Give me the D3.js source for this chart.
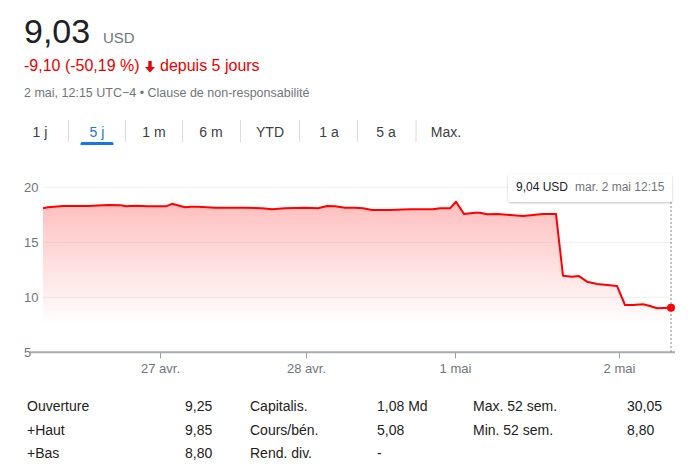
<!DOCTYPE html>
<html><head><meta charset="utf-8">
<script src="https://cdn.jsdelivr.net/npm/d3@7"></script>
<style>
html,body{margin:0;padding:0;background:#fff;}
svg{display:block;font-family:"Liberation Sans",Arial,Helvetica,sans-serif;}
</style></head>
<body><svg id="c" width="700" height="473"></svg>
<script>
// ---- data ----
const price = "9,03";
const currency = "USD";
const changeText = "-9,10 (-50,19 %)";
const changeSuffix = "depuis 5 jours";
const metaText = "2 mai, 12:15 UTC\u22124 \u2022 Clause de non-responsabilité";
const tabs = ["1 j","5 j","1 m","6 m","YTD","1 a","5 a","Max."];
const activeTab = "5 j";

// time in chart units (sessions of ~30 min), price in USD
const times  = [0,0.5,2,4.5,6.5,7.8,8.3,9.2,10.5,12.3,12.9,14.2,14.8,15.5,17.2,20.2,21.9,22.9,24.2,26.2,27.5,28.4,29.2,30.2,31.2,32,32.9,34.7,36.7,39,39.7,40.7,41.3,42.1,43.2,43.7,44.4,45.4,46.7,48,49,50,51.3,52,52.9,53.6,54.4,55.4,56.4,57.4,58.2,59,60,60.7,61.4,62.8];
const prices = [18.09,18.18,18.30,18.30,18.39,18.36,18.27,18.33,18.27,18.27,18.50,18.18,18.24,18.24,18.15,18.15,18.09,18.00,18.09,18.15,18.09,18.30,18.27,18.15,18.15,18.09,17.94,17.94,18.00,18.00,18.09,18.09,18.69,17.57,17.69,17.69,17.55,17.57,17.48,17.39,17.48,17.57,17.57,11.96,11.87,11.93,11.42,11.21,11.12,11.03,9.30,9.30,9.36,9.21,9.00,9.04];

const yTicks = [5,10,15,20];
const xTickPos = [11.7,26.3,41.2,57.6];
const xTickLabels = ["27 avr.","28 avr.","1 mai","2 mai"];

const tooltipValue = "9,04 USD";
const tooltipDate = "mar. 2 mai 12:15";

const statCol1Labels = ["Ouverture","+Haut","+Bas"];
const statCol1Values = ["9,25","9,85","8,80"];
const statCol2Labels = ["Capitalis.","Cours/bén.","Rend. div."];
const statCol2Values = ["1,08 Md","5,08","-"];
const statCol3Labels = ["Max. 52 sem.","Min. 52 sem."];
const statCol3Values = ["30,05","8,80"];

// ---- drawing ----
const svg = d3.select("#c");
const red = "#f00";
const grey = "#70757a";

// header
svg.append("text").attr("x",24).attr("y",43).attr("font-size",34).attr("fill","#202124").text(price);
svg.append("text").attr("x",103).attr("y",43).attr("font-size",15).attr("fill",grey).text(currency);
const ch = svg.append("text").attr("x",24).attr("y",71).attr("font-size",16).attr("fill","#e60000").text(changeText);
svg.append("path").attr("fill","#e60000")
  .attr("d","M148.3,61 h3.4 v6 h3.3 l-5,5.5 l-5,-5.5 h3.3 z");
svg.append("text").attr("x",160).attr("y",71).attr("font-size",16).attr("fill","#e60000").text(changeSuffix);
svg.append("text").attr("x",24).attr("y",96.5).attr("font-size",12.5).attr("fill",grey).text(metaText);

// tabs
const tabCenters = d3.scalePoint().domain(tabs).range([40,446]);
const tabX = [40,97,154,211,270,329,386,446];
tabs.forEach((t,i)=>{
  svg.append("text").attr("x",tabX[i]).attr("y",137).attr("text-anchor","middle")
    .attr("font-size",14).attr("fill", t===activeTab ? "#1a73e8" : "#3c4043").text(t);
  if(i<tabs.length-1){
    const sx = (tabX[i]+tabX[i+1])/2;
    svg.append("line").attr("x1",sx).attr("x2",sx).attr("y1",120).attr("y2",142)
      .attr("stroke","#dadce0").attr("stroke-width",1);
  }
});
const ai = tabs.indexOf(activeTab);
svg.append("path").attr("fill","#1a73e8")
  .attr("d",`M${tabX[ai]-16.5},145 v-1.5 a1.5,1.5 0 0 1 1.5,-1.5 h30 a1.5,1.5 0 0 1 1.5,1.5 v1.5 z`);

// chart
const x = d3.scaleLinear().domain([0,62.8]).range([43,671]);
const y = d3.scaleLinear().domain([5,20]).range([352.3,187.3]);
const data = times.map((t,i)=>({t, v:prices[i]}));

const defs = svg.append("defs");
const g = defs.append("linearGradient").attr("id","ag").attr("gradientUnits","userSpaceOnUse")
  .attr("x1",0).attr("x2",0).attr("y1",y(18.5)).attr("y2",y(7.5));
g.append("stop").attr("offset",0).attr("stop-color","#ff0000").attr("stop-opacity",0.25);
g.append("stop").attr("offset",1).attr("stop-color","#ff0000").attr("stop-opacity",0);

// grid
svg.append("g").selectAll("line").data(yTicks.filter(d=>d>5)).join("line")
  .attr("x1",43).attr("x2",672).attr("y1",d=>y(d)).attr("y2",d=>y(d))
  .attr("stroke","#f1f1f1").attr("stroke-width",1);

svg.append("path").datum(data)
  .attr("fill","url(#ag)")
  .attr("d",d3.area().x(d=>x(d.t)).y0(y(5)).y1(d=>y(d.v)));

// y labels
svg.append("g").selectAll("text").data(yTicks).join("text")
  .attr("x",24).attr("y",d=>y(d)+4.5).attr("font-size",13).attr("fill",grey).text(d=>d);

// x axis
const xAxis = d3.axisBottom(x).tickValues(xTickPos).tickFormat((d,i)=>xTickLabels[i]).tickSize(6).tickPadding(5);
const ax = svg.append("g").attr("transform",`translate(0,${y(5)})`).call(xAxis);
ax.select(".domain").remove();
ax.selectAll(".tick line").attr("stroke","#9aa0a6").attr("stroke-width",1);
ax.selectAll(".tick text").attr("fill",grey).attr("font-size",13).attr("font-family","Liberation Sans, Arial, sans-serif");
svg.append("line").attr("x1",30).attr("x2",675).attr("y1",y(5)).attr("y2",y(5))
  .attr("stroke","#a8acb0").attr("stroke-width",2);

// line
svg.append("path").datum(data)
  .attr("fill","none").attr("stroke",red).attr("stroke-width",2).attr("stroke-linejoin","round")
  .attr("d",d3.line().x(d=>x(d.t)).y(d=>y(d.v)));

// hover line + dot
const last = data[data.length-1];
svg.append("line").attr("x1",x(last.t)).attr("x2",x(last.t)).attr("y1",202).attr("y2",y(5))
  .attr("stroke","#888").attr("stroke-width",1).attr("stroke-dasharray","2,2");
svg.append("circle").attr("cx",x(last.t)).attr("cy",y(last.v)).attr("r",4).attr("fill",red);

// tooltip
const f = defs.append("filter").attr("id","sh").attr("x","-10%").attr("y","-30%").attr("width","120%").attr("height","170%");
f.append("feDropShadow").attr("dx",0).attr("dy",1).attr("stdDeviation",1.2).attr("flood-color","#000").attr("flood-opacity",0.25);
svg.append("rect").attr("x",508).attr("y",174).attr("width",164).attr("height",28).attr("rx",3)
  .attr("fill","#fff").attr("filter","url(#sh)");
svg.append("text").attr("x",516).attr("y",191).attr("font-size",12).attr("fill","#202124").text(tooltipValue);
svg.append("text").attr("x",575).attr("y",191).attr("font-size",12).attr("fill",grey).text(tooltipDate);

// stats
const rowsY = [410.5,434.5,458];
function col(labels, values, lx, vx){
  labels.forEach((l,i)=>{
    svg.append("text").attr("x",lx).attr("y",rowsY[i]).attr("font-size",14).attr("fill","#222").text(l);
    svg.append("text").attr("x",vx).attr("y",rowsY[i]).attr("font-size",14).attr("fill","#222").text(values[i]);
  });
}
col(statCol1Labels, statCol1Values, 27, 185);
col(statCol2Labels, statCol2Values, 250, 377);
col(statCol3Labels, statCol3Values, 473, 627);
</script></body></html>
